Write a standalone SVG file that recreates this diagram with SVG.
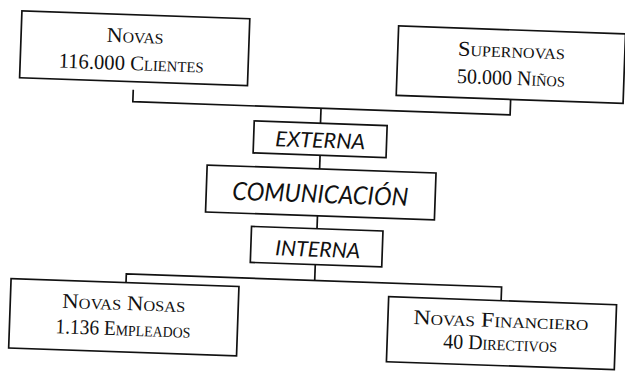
<svg xmlns="http://www.w3.org/2000/svg" width="625" height="372" viewBox="0 0 625 372">
  <style>
    .box { fill: #ffffff; stroke: #111111; stroke-width: 1.7; }
    .conn { fill: none; stroke: #111111; stroke-width: 1.7; }
    .sc { font-family: "Liberation Serif", "DejaVu Serif", serif; font-variant: small-caps; font-size: 21px; fill: #111111; text-anchor: middle; }
    .it { font-family: Lato, "Liberation Sans", sans-serif; font-style: italic; fill: #111111; text-anchor: middle; }
  </style>
  <rect x="0" y="0" width="625" height="372" fill="#ffffff"/>
  <g transform="rotate(2 312 186)">
    <g id="connectors">
      <path class="conn" d="M130,96 V108 H507.5 V92.5"/>
      <path class="conn" d="M318.3,108 V123"/>
      <path class="conn" d="M319,155 V168.7"/>
      <path class="conn" d="M318.5,215.7 V228.5"/>
      <path class="conn" d="M318,264.5 V280.3"/>
      <path class="conn" d="M129.5,289 V280.3 H505 V294"/>
    </g>
    <g id="novas">
      <rect class="box" x="16" y="21" width="228" height="67"/>
      <text class="sc" x="130" y="49" textLength="57" lengthAdjust="spacingAndGlyphs">Novas</text>
      <text class="sc" x="127" y="76.5" textLength="145" lengthAdjust="spacingAndGlyphs">116.000 Clientes</text>
    </g>
    <g id="supernovas">
      <rect class="box" x="393" y="23" width="227" height="69.5"/>
      <text class="sc" x="506.5" y="50.5" textLength="107" lengthAdjust="spacingAndGlyphs">Supernovas</text>
      <text class="sc" x="507" y="78" textLength="108" lengthAdjust="spacingAndGlyphs">50.000 Niños</text>
    </g>
    <g id="externa">
      <rect class="box" x="252" y="123" width="133" height="32"/>
      <text class="it" x="318.7" y="147.5" font-size="21" textLength="90" lengthAdjust="spacingAndGlyphs">EXTERNA</text>
    </g>
    <g id="comunicacion">
      <rect class="box" x="206.5" y="168.7" width="229" height="47"/>
      <text class="it" x="320.6" y="202.5" font-size="25" textLength="176" lengthAdjust="spacingAndGlyphs">COMUNICACIÓN</text>
    </g>
    <g id="interna">
      <rect class="box" x="253" y="228.5" width="131.5" height="36"/>
      <text class="it" x="320" y="256.5" font-size="21" textLength="85" lengthAdjust="spacingAndGlyphs">INTERNA</text>
    </g>
    <g id="novas-nosas">
      <rect class="box" x="14.5" y="289" width="228" height="69.5"/>
      <text class="sc" x="128" y="316.5" textLength="123" lengthAdjust="spacingAndGlyphs">Novas Nosas</text>
      <text class="sc" x="128" y="342" textLength="135" lengthAdjust="spacingAndGlyphs">1.136 Empleados</text>
    </g>
    <g id="novas-financiero">
      <rect class="box" x="392.5" y="294" width="228" height="65"/>
      <text class="sc" x="505.5" y="320.5" textLength="175" lengthAdjust="spacingAndGlyphs">Novas Financiero</text>
      <text class="sc" x="505.5" y="343.5" textLength="114" lengthAdjust="spacingAndGlyphs">40 Directivos</text>
    </g>
  </g>
</svg>
